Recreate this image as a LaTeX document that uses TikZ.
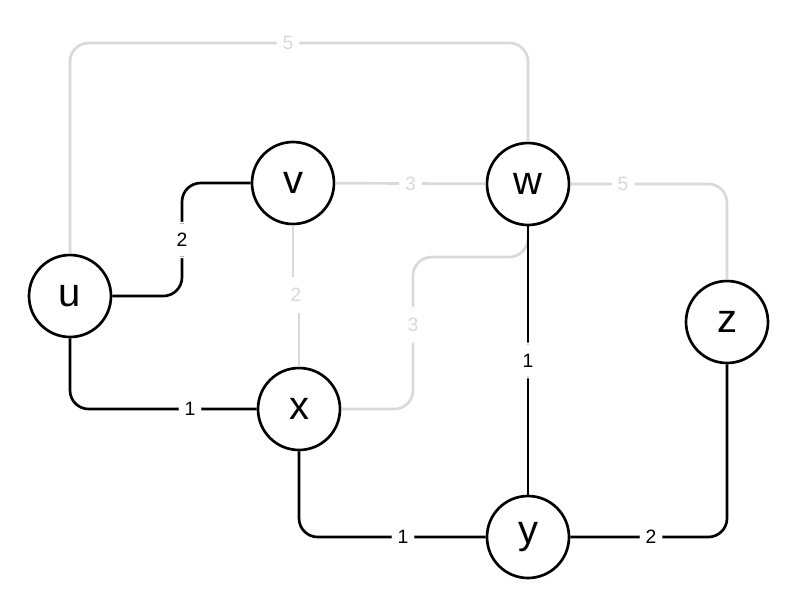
\documentclass[tikz,border=0pt]{standalone}
\usepackage{fontspec}
\setmainfont{Liberation Sans}
\usepackage{xcolor}
\usepackage{tikz}

\definecolor{lightedge}{RGB}{217,217,217}

\begin{document}
\begin{tikzpicture}[
		x=0.75pt, y=-0.75pt,
		vertex/.style={
			circle, draw=black, fill=white, line width=2pt,
			minimum size=61.5pt, inner sep=0pt,
			font=\fontsize{30}{30}\selectfont
		},
		edge/.style={line width=2pt, rounded corners=14pt},
		used/.style={edge, draw=black},
		unused/.style={edge, draw=lightedge},
		weight/.style={
			fill=white, inner xsep=4.5pt, inner ysep=8.5pt,
			font=\fontsize{14.5}{14.5}\selectfont
		},
		faded/.style={weight, text=lightedge}
	]
		\useasboundingbox (0,0) rectangle (799,615);

		\node[vertex] (u) at (70, 296) {u};
		\node[vertex] (v) at (293, 183) {v};
		\node[vertex] (w) at (528, 184) {w};
		\node[vertex] (x) at (299, 409) {x};
		\node[vertex] (y) at (528, 537) {y};
		\node[vertex] (z) at (727, 322) {z};

		% edges left out of the tree
		\draw[unused] (u.north) |- (288,43) node[faded] {5} -| (w.north);
		\draw[unused] (v) -- node[faded] {3} (w);
		\draw[unused] (w.east) -- (623,184) node[faded] {5} -| (z.north);
		\draw[unused, sharp corners] (v.south) |- (296,295) node[faded] {2} -| (x.north);
		\draw[unused] (x.east) -| (413,325) node[faded] {3} |- (528,257) -- (w.south);

		% edges of the tree
		\draw[used] (u.east) -| (182,240) node[weight] {2} |- (v.west);
		\draw[used] (u.south) |- (190,409) node[weight] {1} -- (x.west);
		\draw[used] (w) -- node[weight] {1} (y);
		\draw[used] (x.south) |- (403,537) node[weight] {1} -- (y.west);
		\draw[used] (y.east) -- (651,537) node[weight] {2} -| (z.south);
	\end{tikzpicture}
\end{document}
